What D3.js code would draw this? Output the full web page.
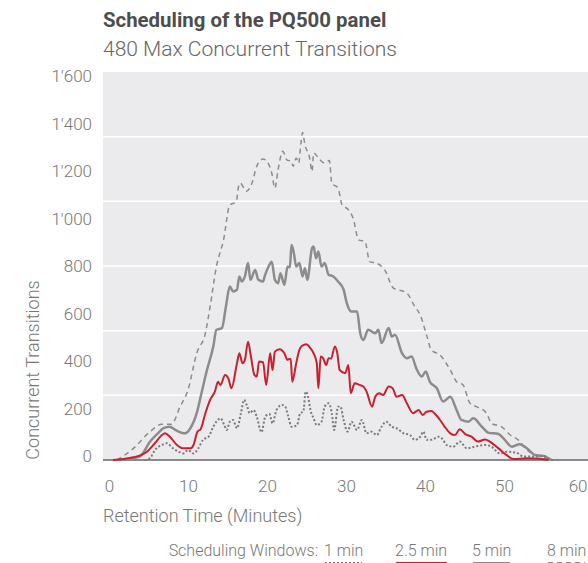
<!DOCTYPE html>
<html lang="en">
<head>
    <meta charset="UTF-8">
    <title>PQ500 scheduling</title>
    <script src="https://d3js.org/d3.v7.min.js"></script>
    <style>
        * { margin: 0; padding: 0; box-sizing: border-box; }
        body { font-family: Roboto, "Noto Sans", Arial, sans-serif; background: #fff; }
        svg { display: block; }
    </style>
</head>
<body>
    <div id="chart"></div>
    <script>
        // [minute, concurrent transitions]
        const win8 = [[1.0,0],[3.1,48],[5.2,117],[6.7,147],[7.9,147],[9.0,220],[10.0,289],[11.1,440],[12.2,523],[12.8,633],[13.6,798],[14.5,908],[15.3,1052],[16.1,1064],[16.4,1128],[16.6,1142],[17.4,1108],[18.1,1142],[18.7,1211],[19.5,1241],[20.0,1231],[20.6,1183],[21.0,1121],[21.4,1197],[22.0,1273],[22.5,1238],[23.1,1231],[23.3,1211],[23.7,1245],[24.0,1224],[24.3,1307],[24.5,1351],[24.8,1300],[25.4,1245],[25.7,1190],[25.9,1266],[26.7,1238],[27.3,1225],[27.9,1235],[28.2,1142],[29.0,1121],[29.5,1052],[30.3,1032],[30.9,997],[31.6,908],[32.4,901],[33.0,818],[33.9,811],[34.9,784],[36.0,709],[36.6,702],[37.7,688],[38.7,633],[39.4,598],[40.2,515],[40.8,454],[41.9,433],[43.2,371],[44.0,323],[44.8,310],[45.7,234],[46.5,220],[47.8,193],[48.4,151],[49.7,137],[50.8,103],[51.8,83],[52.9,41],[54.1,21],[55.8,3],[56.2,0]];

        const win5 = [[1.4,0],[3.9,14],[5.2,76],[6.2,110],[6.9,131],[7.7,137],[8.4,124],[9.6,110],[10.3,131],[11.1,193],[11.7,275],[12.4,371],[13.2,468],[13.6,537],[14.3,544],[14.8,633],[15.3,715],[15.7,695],[16.2,702],[16.5,757],[16.8,736],[17.2,757],[17.6,812],[17.9,743],[18.5,784],[18.9,743],[19.5,736],[19.7,757],[20.2,798],[20.6,818],[21.0,743],[21.4,729],[21.7,770],[22.2,722],[22.6,798],[22.9,795],[23.1,887],[23.4,853],[23.7,798],[24.1,812],[24.5,757],[24.8,791],[25.1,743],[25.7,873],[25.9,880],[26.2,832],[26.5,860],[26.9,798],[27.3,812],[27.8,764],[28.4,757],[29.0,736],[29.7,702],[30.1,647],[30.7,612],[31.4,612],[31.8,523],[32.2,495],[32.8,537],[33.7,523],[34.1,537],[34.5,482],[35.4,544],[35.8,509],[36.2,516],[37.1,440],[37.7,420],[38.3,427],[38.9,378],[39.6,344],[40.1,365],[40.6,323],[41.5,296],[42.3,241],[43.2,261],[44.0,206],[44.6,165],[45.5,158],[46.1,172],[47.2,137],[48.0,113],[49.3,107],[50.1,83],[51.0,55],[52.0,65],[52.9,48],[53.9,21],[55.0,17],[56.0,0]];

        const win25 = [[0.5,0],[3.1,11],[4.8,34],[5.8,69],[6.7,103],[7.1,110],[7.7,96],[8.6,62],[9.4,48],[10.3,48],[10.7,62],[11.2,117],[11.6,127],[12.2,193],[12.8,248],[13.4,282],[13.8,323],[14.1,309],[14.7,351],[15.1,337],[15.5,296],[16.2,399],[16.5,440],[16.9,399],[17.2,413],[17.6,488],[17.9,440],[18.4,351],[18.7,344],[19.0,406],[19.5,403],[19.9,310],[20.4,440],[20.7,371],[21.0,447],[21.6,457],[22.2,440],[22.6,413],[23.0,418],[23.2,323],[23.7,399],[24.1,454],[24.4,470],[25.0,477],[25.4,465],[25.9,440],[26.3,399],[26.5,296],[26.8,427],[27.1,420],[27.5,392],[27.8,420],[28.1,418],[28.6,468],[28.9,440],[29.2,371],[29.9,358],[30.3,392],[30.6,275],[31.1,316],[31.7,310],[32.2,303],[32.6,282],[33.3,220],[33.7,261],[34.2,275],[34.7,268],[35.4,303],[35.9,296],[36.4,261],[37.1,268],[37.7,234],[38.5,193],[39.2,206],[39.7,186],[40.2,199],[40.8,202],[41.2,193],[41.9,165],[42.5,137],[43.2,110],[43.8,103],[44.4,127],[45.1,107],[45.9,96],[46.7,76],[47.6,85],[48.2,76],[49.3,48],[50.3,21],[51.2,4],[52.9,7],[54.6,5],[55.6,0]];

        const win1 = [[4.5,0],[5.2,8],[5.8,41],[6.7,62],[7.3,69],[8.1,48],[8.8,34],[9.4,27],[10.0,41],[10.7,27],[11.3,48],[11.9,83],[12.6,96],[13.2,137],[13.6,158],[14.1,172],[14.6,144],[14.9,124],[15.3,158],[15.7,165],[16.2,131],[16.7,193],[17.1,248],[17.5,220],[17.8,193],[18.3,206],[18.7,179],[19.3,115],[19.8,180],[20.3,190],[20.7,151],[21.2,206],[21.9,227],[22.3,220],[22.7,179],[23.1,137],[23.8,144],[24.2,193],[24.6,200],[24.9,282],[25.2,261],[25.5,206],[25.9,172],[26.3,144],[26.9,158],[27.3,220],[27.8,234],[28.2,193],[28.5,124],[29.0,220],[29.3,220],[29.7,165],[30.2,117],[30.7,158],[31.4,124],[32.0,165],[32.6,110],[33.2,117],[33.9,103],[34.5,137],[35.1,158],[35.8,137],[36.4,131],[37.3,110],[38.1,103],[38.7,83],[39.4,96],[39.8,117],[40.2,83],[40.8,83],[41.7,96],[42.3,83],[42.7,62],[43.6,55],[44.4,76],[45.3,48],[46.3,55],[47.6,62],[48.4,55],[49.5,27],[50.3,34],[51.6,30],[52.4,15],[53.7,14],[55.0,17],[55.8,3],[56.2,0]];

        const xTicks = [0, 10, 20, 30, 40, 50, 60];
        const yTicks = [0, 200, 400, 600, 800, 1000, 1200, 1400, 1600];
        const legendLabels = ["1 min", "2.5 min", "5 min", "8 min"];

        const width = 588, height = 563;
        const plot = { left: 103, right: 588, top: 72, bottom: 460 };

        const svg = d3.select("#chart").append("svg")
            .attr("width", width)
            .attr("height", height);

        const x = d3.scaleLinear().domain([0, 60]).range([109, 583]);
        const y = d3.scaleLinear().domain([0, 1600]).range([plot.bottom, plot.top]);
        // labels in the original sit slightly inside the plot
        const yLab = y.copy().range([456, 76.5]);

        // titles
        svg.append("text")
            .attr("x", 103).attr("y", 27)
            .style("font-size", "20.4px").style("font-weight", "700")
            .attr("fill", "#4d4d4d")
            .text("Scheduling of the PQ500 panel");
        svg.append("text")
            .attr("x", 103).attr("y", 56)
            .style("font-size", "21px").style("font-weight", "300")
            .attr("fill", "#666")
            .text("480 Max Concurrent Transitions");

        svg.append("rect")
            .attr("x", plot.left).attr("y", plot.top)
            .attr("width", plot.right - plot.left)
            .attr("height", plot.bottom - plot.top)
            .attr("fill", "#ebebed");

        // white grid (6 bands)
        svg.append("g")
            .selectAll("line")
            .data(d3.range(1, 6).map(i => i * 1600 / 6))
            .join("line")
            .attr("x1", plot.left).attr("x2", plot.right)
            .attr("y1", d => y(d)).attr("y2", d => y(d))
            .attr("stroke", "#fff").attr("stroke-width", 1.5);

        const yAxis = svg.append("g")
            .attr("transform", "translate(92,0)")
            .call(d3.axisLeft(yLab).tickValues(yTicks).tickSize(0).tickPadding(0)
                .tickFormat(d => d3.format(",")(d).replace(",", "'")));
        yAxis.select(".domain").remove();
        yAxis.selectAll("text")
            .style("font-size", "17px").style("font-weight", "300")
            .style("font-family", "Roboto, sans-serif")
            .attr("fill", "#777");

        const xAxis = svg.append("g")
            .attr("transform", `translate(0,${plot.bottom})`)
            .call(d3.axisBottom(x).tickValues(xTicks).tickSize(0).tickPadding(20));
        xAxis.select(".domain").remove();
        xAxis.selectAll("text")
            .style("font-size", "17px").style("font-weight", "300")
            .style("font-family", "Roboto, sans-serif")
            .attr("fill", "#777");
        xAxis.selectAll(".tick").filter(d => d === 60).select("text")
            .attr("text-anchor", "end").attr("x", 4);

        svg.append("line")
            .attr("x1", plot.left).attr("x2", plot.right)
            .attr("y1", plot.bottom).attr("y2", plot.bottom)
            .attr("stroke", "#666").attr("stroke-width", 1.5);

        svg.append("text")
            .attr("x", 103).attr("y", 522)
            .style("font-size", "18px").style("font-weight", "300")
            .attr("fill", "#777")
            .text("Retention Time (Minutes)");
        svg.append("text")
            .attr("transform", "translate(39,370) rotate(-90)")
            .attr("text-anchor", "middle")
            .style("font-size", "18px").style("font-weight", "300")
            .attr("fill", "#777")
            .text("Concurrent Transitions");

        const line = d3.line()
            .x(d => x(d[0]))
            .y(d => y(d[1]))
            .curve(d3.curveMonotoneX);

        const styles = [
            { data: win8, color: "#8c8c8c", w: 1.5, dash: "5,4" },
            { data: win5, color: "#8c8c8c", w: 2.5, dash: null },
            { data: win1, color: "#7a7a7a", w: 2, dash: "2,2" },
            { data: win25, color: "#c8202f", w: 2, dash: null }
        ];

        svg.append("g")
            .selectAll("path")
            .data(styles)
            .join("path")
            .attr("d", d => line(d.data))
            .attr("fill", "none")
            .attr("stroke", d => d.color)
            .attr("stroke-width", d => d.w)
            .attr("stroke-dasharray", d => d.dash)
            .attr("stroke-linejoin", "round");

        // legend
        svg.append("text")
            .attr("x", 318).attr("y", 556)
            .attr("text-anchor", "end")
            .style("font-size", "16px").style("font-weight", "300")
            .attr("fill", "#777")
            .text("Scheduling Windows:");

        const legendX = [324, 395, 472, 547];
        const legendW = [38, 52, 38, 38];
        const legendStyle = [styles[2], styles[3], styles[1], styles[0]];
        legendLabels.forEach((lab, i) => {
            svg.append("text")
                .attr("x", legendX[i]).attr("y", 556)
                .style("font-size", "16px").style("font-weight", "300")
                .attr("fill", "#777")
                .text(lab);
            svg.append("line")
                .attr("x1", legendX[i] + 1).attr("x2", legendX[i] + legendW[i])
                .attr("y1", 563).attr("y2", 563)
                .attr("stroke", legendStyle[i].color)
                .attr("stroke-width", 2)
                .attr("stroke-dasharray", legendStyle[i].dash);
        });
    </script>
</body>
</html>
